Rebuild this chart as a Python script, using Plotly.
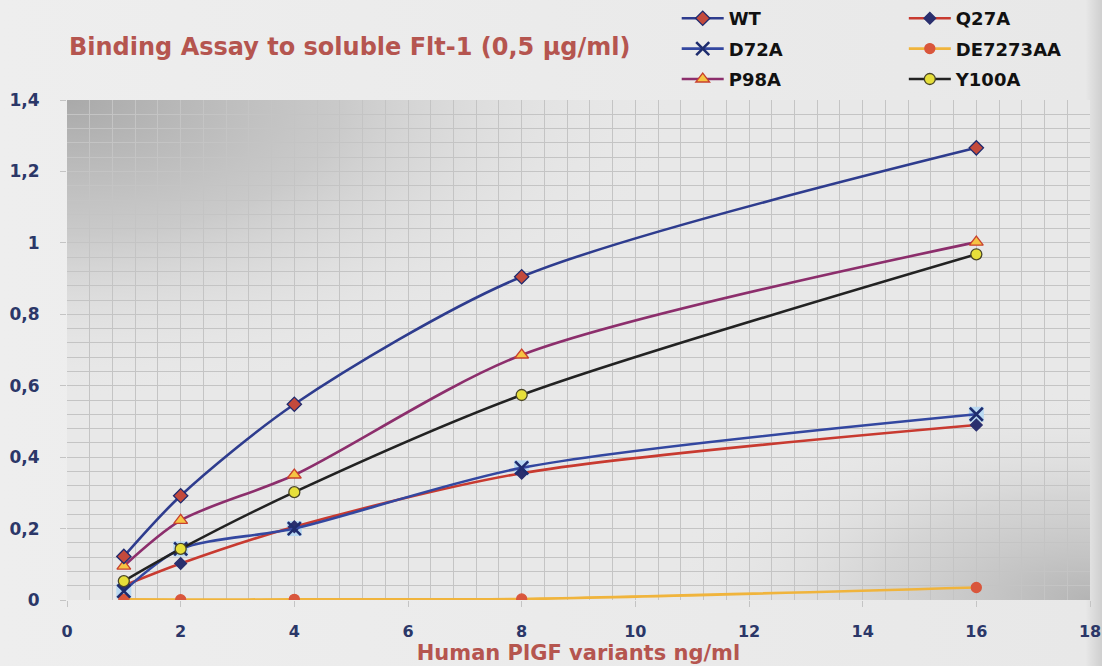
import base64
import plotly.graph_objects as go

# Concentrations of the PlGF variants (ng/ml)
conc = [1, 2, 4, 8, 16]

# Binding signal (OD) per variant
wt = [0.122, 0.292, 0.548, 0.905, 1.266]
q27a = [0.040, 0.102, 0.205, 0.355, 0.490]
d72a = [0.025, 0.143, 0.200, 0.370, 0.520]
de7273aa = [0.002, 0.001, 0.002, 0.003, 0.035]
p98a = [0.095, 0.223, 0.350, 0.686, 1.002]
y100a = [0.053, 0.143, 0.302, 0.574, 0.968]

x_ticks = [0, 2, 4, 6, 8, 10, 12, 14, 16, 18]
y_ticks = [0, 0.2, 0.4, 0.6, 0.8, 1.0, 1.2, 1.4]
y_ticktext = ["0", "0,2", "0,4", "0,6", "0,8", "1", "1,2", "1,4"]

FONT = "DejaVu Sans"
NAVY = "#2b3768"
ROSE = "#b5554f"


def svg_uri(svg):
    return "data:image/svg+xml;base64," + base64.b64encode(svg.encode()).decode()


# Plot-area shading: light base, dark corner top-left, softer corner bottom-right
plot_bg = svg_uri(
    '<svg xmlns="http://www.w3.org/2000/svg" width="200" height="100" preserveAspectRatio="none">'
    '<defs>'
    '<radialGradient id="a" cx="0" cy="0" r="0.6" gradientUnits="objectBoundingBox">'
    '<stop offset="0" stop-color="#a9a9a9" stop-opacity="1"/>'
    '<stop offset="0.45" stop-color="#bdbdbd" stop-opacity="0.7"/>'
    '<stop offset="1" stop-color="#e8e8e8" stop-opacity="0"/>'
    '</radialGradient>'
    '<radialGradient id="b" cx="1" cy="1" r="0.42" gradientUnits="objectBoundingBox">'
    '<stop offset="0" stop-color="#b4b4b4" stop-opacity="1"/>'
    '<stop offset="0.5" stop-color="#c8c8c8" stop-opacity="0.6"/>'
    '<stop offset="1" stop-color="#e8e8e8" stop-opacity="0"/>'
    '</radialGradient>'
    '</defs>'
    '<rect width="200" height="100" fill="#e8e8e8"/>'
    '<rect width="200" height="100" fill="url(#a)"/>'
    '<rect width="200" height="100" fill="url(#b)"/>'
    '</svg>'
)

page_bg = svg_uri(
    '<svg xmlns="http://www.w3.org/2000/svg" width="100" height="100" preserveAspectRatio="none">'
    '<defs><linearGradient id="h" x1="0" y1="0" x2="1" y2="0">'
    '<stop offset="0" stop-color="#eeeeee"/>'
    '<stop offset="0.985" stop-color="#e8e8e8"/>'
    '<stop offset="1" stop-color="#cfcfcf"/>'
    '</linearGradient></defs>'
    '<rect width="100" height="100" fill="url(#h)"/></svg>'
)

fig = go.Figure()


def add_series(name, y, line_color, symbol, fill, outline, size, legend, rank):
    fig.add_trace(go.Scatter(
        x=conc, y=y, name=name, mode="lines+markers",
        line=dict(color=line_color, width=2.6, shape="spline", smoothing=0.8),
        marker=dict(symbol=symbol, color=fill, size=size,
                    line=dict(color=outline, width=1.3)),
        legend=legend, legendrank=rank, legendgroup=name,
    ))


# Light backing square behind the D72A crosses
fig.add_trace(go.Scatter(
    x=conc, y=d72a, mode="markers", showlegend=False, hoverinfo="skip",
    marker=dict(symbol="square", color="#b9d9f2", size=15, line=dict(width=0)),
))

add_series("DE7273AA", de7273aa, "#f0b43c", "circle", "#d9563c", "#d9563c", 10, "legend2", 2)
add_series("Q27A", q27a, "#c83a30", "diamond", "#2a2f6e", "#2a2f6e", 9, "legend2", 1)
add_series("D72A", d72a, "#3347a0", "x-thin", "#1e2c6e", "#1e2c6e", 13, "legend", 2)
fig.data[-1].marker.line.width = 2.6
add_series("Y100A", y100a, "#222222", "circle", "#e6df3a", "#4a4628", 11, "legend2", 3)
add_series("P98A", p98a, "#8c2e6c", "triangle-up", "#f6c443", "#c8402e", 12, "legend", 3)
add_series("WT", wt, "#2e3c8e", "diamond", "#c44a3c", "#1f2a6e", 11, "legend", 1)

legend_style = dict(
    font=dict(family=FONT, size=18, color="#111111", weight="bold"),
    bgcolor="rgba(0,0,0,0)", borderwidth=0, tracegroupgap=4,
    orientation="v", yanchor="top", xanchor="left",
    traceorder="grouped", itemwidth=42,
)

fig.update_layout(
    width=1102, height=666,
    margin=dict(l=67, r=12, t=100, b=66, autoexpand=False),
    paper_bgcolor="#ececec",
    plot_bgcolor="rgba(0,0,0,0)",
    font=dict(family=FONT, color=NAVY),
    showlegend=True,
    legend=dict(x=0.596, y=1.2, **legend_style),
    legend2=dict(x=0.818, y=1.2, **legend_style),
    images=[
        dict(source=page_bg, xref="paper", yref="paper", x=-67 / 1023, y=1.2,
             sizex=1102 / 1023, sizey=666 / 500, sizing="stretch",
             xanchor="left", yanchor="top", layer="below"),
        dict(source=plot_bg, xref="paper", yref="paper", x=0, y=1,
             sizex=1, sizey=1, sizing="stretch",
             xanchor="left", yanchor="top", layer="below"),
    ],
    annotations=[
        dict(text="Binding Assay to soluble Flt-1 (0,5 \u00b5g/ml)",
             xref="paper", yref="paper", x=0.0, y=1.106,
             xanchor="left", yanchor="middle", showarrow=False,
             font=dict(family=FONT, size=24, color=ROSE, weight="bold")),
    ],
)

fig.update_xaxes(
    range=[0, 18], tickvals=x_ticks, showgrid=True,
    gridcolor="#c4c4c4", gridwidth=1,
    minor=dict(dtick=0.4, tick0=0, showgrid=True, gridcolor="#c4c4c4", gridwidth=1),
    ticks="outside", ticklen=6, tickcolor="#c4c4c4", ticklabelstandoff=11,
    tickfont=dict(family=FONT, size=16, color=NAVY, weight="bold"),
    showline=False, zeroline=False,
    title=dict(text="Human PlGF variants ng/ml", standoff=0,
               font=dict(family=FONT, size=21, color=ROSE, weight="bold")),
)
fig.update_yaxes(
    range=[0, 1.4], tickvals=y_ticks, ticktext=y_ticktext, showgrid=True,
    gridcolor="#c4c4c4", gridwidth=1,
    minor=dict(dtick=0.04, tick0=0, showgrid=True, gridcolor="#c4c4c4", gridwidth=1),
    ticks="outside", ticklen=6, tickcolor="#c4c4c4", ticklabelstandoff=17,
    tickfont=dict(family=FONT, size=17, color=NAVY, weight="bold"),
    showline=False, zeroline=False,
)

fig.write_html("out.html")
